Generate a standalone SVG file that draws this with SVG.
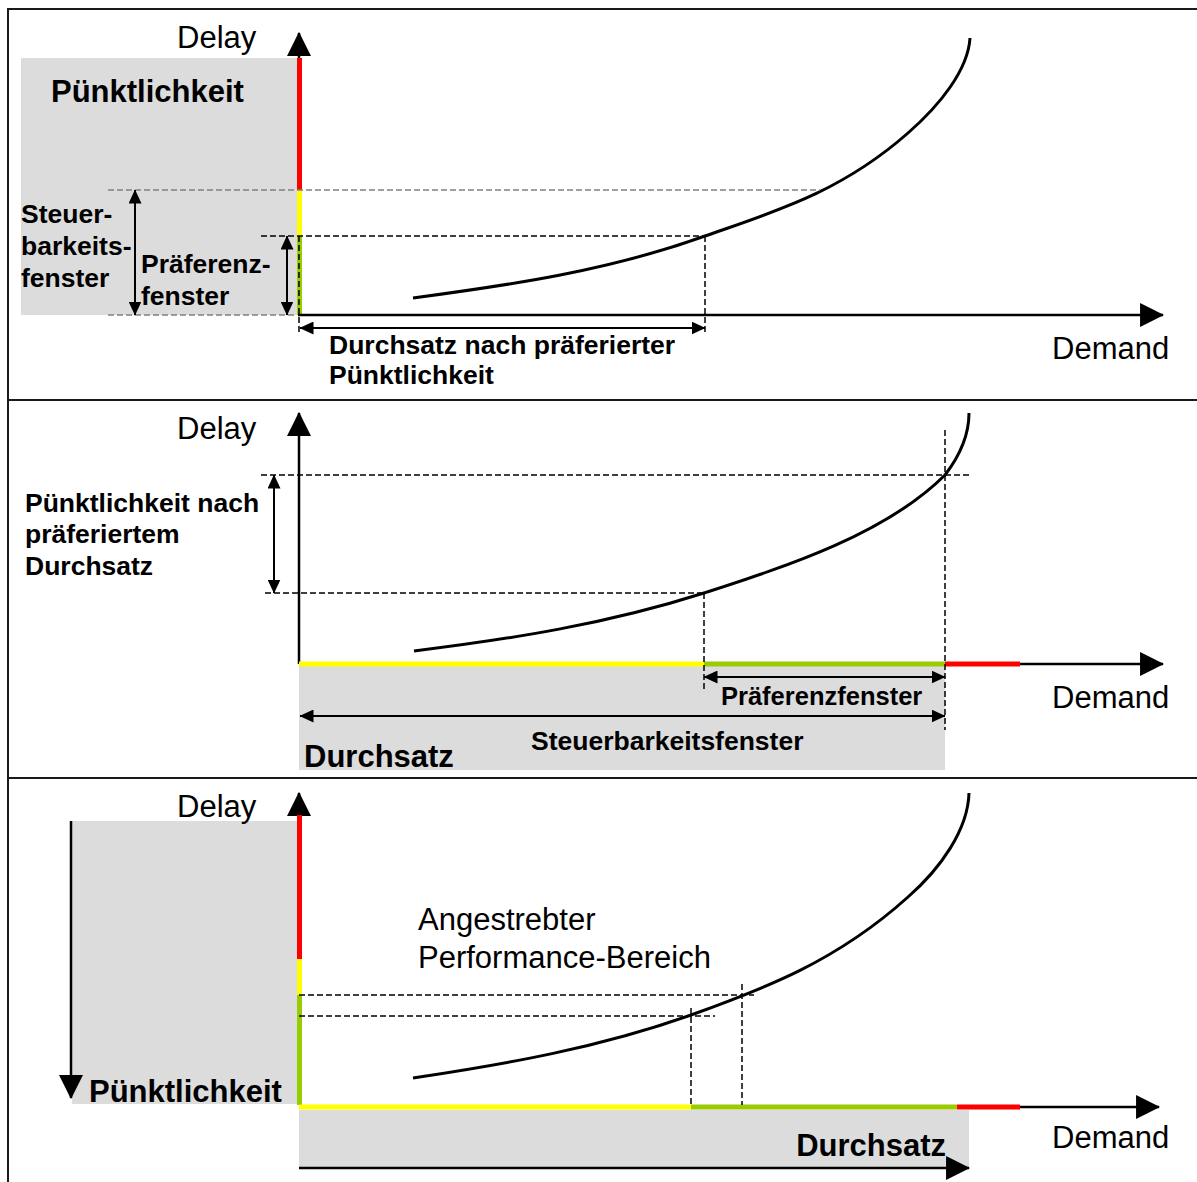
<svg xmlns="http://www.w3.org/2000/svg" width="1197" height="1182" viewBox="0 0 1197 1182">
  <style>
    text { font-family: "Liberation Sans", Arial, sans-serif; fill: #000; }
    .lbl { font-size: 31px; }
    .b26 { font-size: 26.5px; font-weight: bold; }
    .b30 { font-size: 31px; font-weight: bold; }
    .frame { stroke: #1a1a1a; stroke-width: 2; fill: none; }
    .zone { fill: #dcdcdc; }
    .axis { stroke: #000; stroke-width: 2.5; fill: none; }
    .curve { stroke: #000; stroke-width: 3; fill: none; }
    .dash { stroke: #000; stroke-width: 1.5; stroke-dasharray: 6 3; fill: none; }
    .gdash { stroke: #808080; stroke-width: 1.5; stroke-dasharray: 6 3; fill: none; }
    .dim { stroke: #000; stroke-width: 2; fill: none; marker-start: url(#tip); marker-end: url(#tip); }
    .red { stroke: #ff0000; stroke-width: 5; }
    .yel { stroke: #ffff00; stroke-width: 5; }
    .grn { stroke: #99cc00; stroke-width: 5; }
  </style>
  <defs>
    <marker id="head" markerUnits="userSpaceOnUse" markerWidth="24" markerHeight="24" viewBox="0 0 22 22" refX="21" refY="11" orient="auto">
      <path d="M0,0 L22,11 L0,22 z" fill="#000"/>
    </marker>
    <marker id="tip" markerUnits="userSpaceOnUse" markerWidth="14" markerHeight="13" viewBox="0 0 14 13" refX="13.5" refY="6.5" orient="auto-start-reverse">
      <path d="M0,0 L14,6.5 L0,13 z" fill="#000"/>
    </marker>
  </defs>

  <!-- outer frame and panel dividers -->
  <g id="frame">
    <line class="frame" x1="8" y1="9" x2="1197" y2="9"/>
    <line class="frame" x1="8" y1="8" x2="8" y2="1182"/>
    <line class="frame" x1="8" y1="400" x2="1197" y2="400"/>
    <line class="frame" x1="8" y1="778" x2="1197" y2="778"/>
  </g>

  <!-- panel 1: punctuality window on the delay axis -->
  <g id="panel-punctuality">
    <rect class="zone" x="21" y="58" width="276" height="257"/>
    <text class="b30" x="51" y="102">Pünktlichkeit</text>
    <text class="b26" x="21" y="223">Steuer-</text>
    <text class="b26" x="21" y="255">barkeits-</text>
    <text class="b26" x="21" y="287">fenster</text>
    <text class="b26" x="141" y="273">Präferenz-</text>
    <text class="b26" x="141" y="305">fenster</text>
    <text class="lbl" x="177" y="48">Delay</text>
    <text class="lbl" x="1052" y="359">Demand</text>
    <text class="b26" x="329" y="354">Durchsatz nach präferierter</text>
    <text class="b26" x="329" y="384">Pünktlichkeit</text>
    <line class="axis" x1="299" y1="62" x2="299" y2="33" marker-end="url(#head)"/>
    <line class="red" x1="299.5" y1="58" x2="299.5" y2="190"/>
    <line class="yel" x1="299.5" y1="190" x2="299.5" y2="236"/>
    <line class="grn" x1="299.5" y1="236" x2="299.5" y2="315"/>
    <line class="axis" x1="298" y1="315" x2="1163" y2="315" marker-end="url(#head)"/>
    <path class="curve" d="M413,298 C510,285 608,271 705,236 C773,212 840,193 908,133 C940,105 968,70 970,38"/>
  </g>
  <g id="panel-punctuality-guides">
    <line class="gdash" x1="108" y1="190" x2="820" y2="190"/>
    <line class="gdash" x1="108" y1="315" x2="297" y2="315"/>
    <line class="dash" x1="261" y1="236" x2="705" y2="236"/>
    <line class="dash" x1="299" y1="236" x2="299" y2="334"/>
    <line class="dash" x1="705" y1="236" x2="705" y2="334"/>
    <line class="dim" x1="135" y1="190" x2="135" y2="315"/>
    <line class="dim" x1="287" y1="236" x2="287" y2="315"/>
    <line class="dim" x1="300" y1="328" x2="705" y2="328"/>
  </g>

  <!-- panel 2: throughput window on the demand axis -->
  <g id="panel-throughput">
    <rect class="zone" x="299" y="666" width="646" height="104"/>
    <text class="lbl" x="177" y="439">Delay</text>
    <text class="lbl" x="1052" y="708">Demand</text>
    <text class="b26" x="25" y="512">Pünktlichkeit nach</text>
    <text class="b26" x="25" y="543">präferiertem</text>
    <text class="b26" x="25" y="575">Durchsatz</text>
    <text class="b26" x="721" y="705" style="font-size:25.5px">Präferenzfenster</text>
    <text class="b26" x="531" y="750">Steuerbarkeitsfenster</text>
    <text class="b30" x="304" y="767">Durchsatz</text>
    <line class="axis" x1="299" y1="664" x2="299" y2="413" marker-end="url(#head)"/>
    <line class="axis" x1="1015" y1="664" x2="1163" y2="664" marker-end="url(#head)"/>
    <line class="yel" x1="299" y1="664" x2="704" y2="664"/>
    <line class="grn" x1="704" y1="664" x2="945" y2="664"/>
    <line class="red" x1="945" y1="664" x2="1020" y2="664"/>
    <path class="curve" d="M414,651 C511,639 607,624 704,593 C784,567 885,535 945,475 C955,462 969,440 969,413"/>
  </g>
  <g id="panel-throughput-guides">
    <line class="dash" x1="261" y1="475" x2="971" y2="475"/>
    <line class="dash" x1="265" y1="593" x2="704" y2="593"/>
    <line class="dash" x1="704" y1="593" x2="704" y2="690"/>
    <line class="dash" x1="945" y1="430" x2="945" y2="730"/>
    <line class="dim" x1="274" y1="475" x2="274" y2="593"/>
    <line class="dim" x1="704" y1="677" x2="945" y2="677"/>
    <line class="dim" x1="300" y1="716" x2="945" y2="716"/>
  </g>

  <!-- panel 3: targeted performance range -->
  <g id="panel-target">
    <rect class="zone" x="72" y="821" width="225" height="283"/>
    <rect class="zone" x="299" y="1110" width="670" height="58"/>
    <text class="lbl" x="177" y="817">Delay</text>
    <text class="lbl" x="1052" y="1148">Demand</text>
    <text class="b30" x="89" y="1102">Pünktlichkeit</text>
    <text class="b30" x="946" y="1156" text-anchor="end">Durchsatz</text>
    <text class="lbl" x="418" y="930">Angestrebter</text>
    <text class="lbl" x="418" y="968">Performance-Bereich</text>
    <line class="axis" x1="299" y1="818" x2="299" y2="793" marker-end="url(#head)"/>
    <line class="red" x1="299.5" y1="815" x2="299.5" y2="959"/>
    <line class="yel" x1="299.5" y1="959" x2="299.5" y2="995"/>
    <line class="grn" x1="299.5" y1="995" x2="299.5" y2="1105"/>
    <line class="axis" x1="1015" y1="1107" x2="1159" y2="1107" marker-end="url(#head)"/>
    <line class="yel" x1="299" y1="1107" x2="691" y2="1107"/>
    <line class="grn" x1="691" y1="1107" x2="957" y2="1107"/>
    <line class="red" x1="957" y1="1107" x2="1020" y2="1107"/>
    <path class="curve" d="M413,1078 C506,1064 598,1048 691,1015 C763,989 836,962 908,897 C940,869 968,830 969,793"/>
  </g>
  <g id="panel-target-guides">
    <line class="axis" x1="71" y1="821" x2="71" y2="1098" marker-end="url(#head)"/>
    <line class="axis" x1="299" y1="1168" x2="969" y2="1168" marker-end="url(#head)"/>
    <line class="dash" x1="299" y1="995" x2="754" y2="995"/>
    <line class="dash" x1="299" y1="1016" x2="715" y2="1016"/>
    <line class="dash" x1="742" y1="984" x2="742" y2="1105"/>
    <line class="dash" x1="691" y1="1008" x2="691" y2="1105"/>
  </g>
</svg>
